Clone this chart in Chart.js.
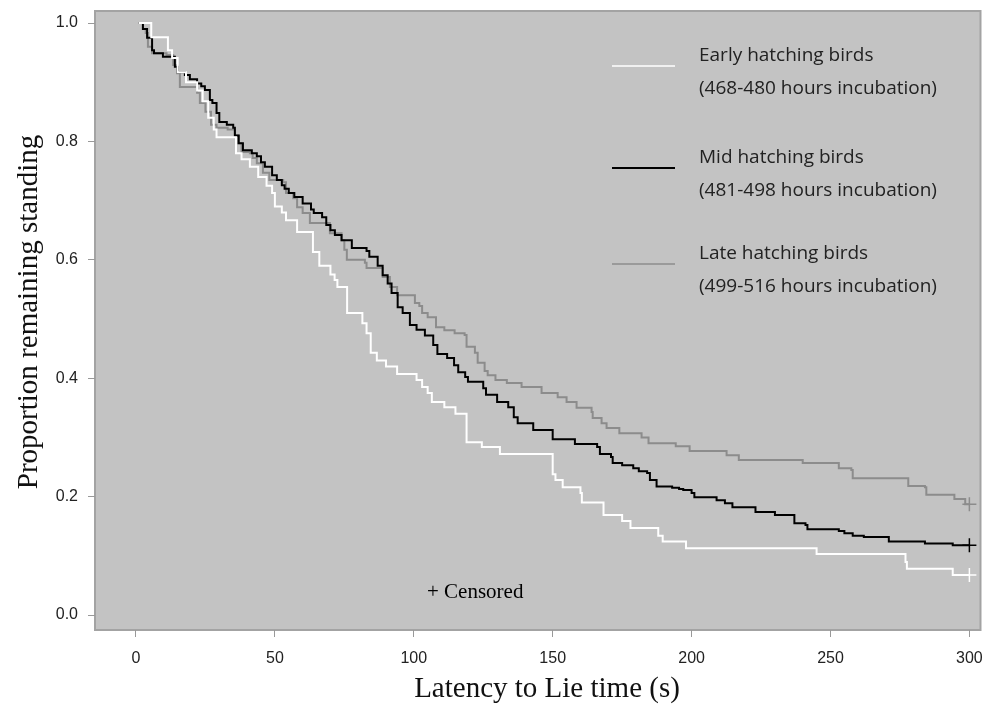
<!DOCTYPE html>
<html>
<head>
<meta charset="utf-8">
<script src="https://cdn.jsdelivr.net/npm/chart.js@4.4.1/dist/chart.umd.min.js"></script>
<style>
  html, body { margin: 0; padding: 0; background: #fff; }
</style>
</head>
<body>
<canvas id="kmChart" width="989" height="709"></canvas>
<script>
// tick labels
const xTicks = [0, 50, 100, 150, 200, 250, 300];
const yTicks = [0, 0.2, 0.4, 0.6, 0.8, 1.0];

// Early hatching birds (468-480 h) - step times and survival after each step
const earlyTime = [1, 5.5, 11.5, 13, 15, 18, 22, 24, 26, 28, 29, 36, 38, 41, 44, 47, 49, 50, 52.5, 54, 58, 63.7, 66, 70, 71.5, 72.5, 76, 81.5, 83, 84.5, 86.7, 90, 94, 101, 103, 105, 106.5, 111, 115, 119, 124.5, 131, 150, 151, 153.6, 160, 160.5, 168.3, 175, 178, 188, 189.6, 198, 245, 277, 277.5, 294, 300];
const earlySurv = [1.0, 0.976, 0.954, 0.941, 0.917, 0.90, 0.886, 0.868, 0.84, 0.82, 0.807, 0.78, 0.77, 0.757, 0.74, 0.725, 0.713, 0.69, 0.68, 0.667, 0.647, 0.613, 0.59, 0.575, 0.566, 0.554, 0.51, 0.493, 0.476, 0.443, 0.43, 0.42, 0.407, 0.397, 0.385, 0.375, 0.36, 0.351, 0.34, 0.292, 0.284, 0.272, 0.238, 0.228, 0.216, 0.206, 0.19, 0.169, 0.159, 0.147, 0.134, 0.124, 0.113, 0.103, 0.0895, 0.078, 0.0676, 0.0676];

// Mid hatching birds (481-498 h)
const midTime = [1, 2.5, 4, 5.8, 6.5, 9.7, 14, 15, 17.6, 19.4, 22, 23.5, 24.8, 26.6, 27.5, 29, 30, 32.7, 35, 35.6, 37, 38.5, 41.7, 43.5, 45, 46.4, 49, 50.7, 52.5, 53.5, 55, 57, 60, 63, 64, 67, 68.5, 70, 71.6, 74, 77.7, 83, 84, 87, 88.8, 90.6, 92, 94.2, 96, 98.6, 101, 104, 107, 108.5, 112, 114.5, 116, 118.5, 119.5, 125, 126, 130, 134, 136, 137.4, 143, 150, 158, 166, 167, 171, 171.6, 175, 179, 181, 184, 185, 187.4, 193, 195.5, 197, 200, 201, 209, 212, 214.7, 223, 230, 237, 241, 241.7, 253, 255, 258, 262, 271, 284, 294, 300];
const midSurv = [1.0, 0.99, 0.975, 0.954, 0.949, 0.943, 0.926, 0.917, 0.912, 0.905, 0.898, 0.893, 0.887, 0.87, 0.865, 0.848, 0.833, 0.828, 0.823, 0.81, 0.797, 0.785, 0.78, 0.775, 0.765, 0.757, 0.743, 0.735, 0.726, 0.72, 0.713, 0.706, 0.695, 0.685, 0.679, 0.672, 0.659, 0.65, 0.642, 0.633, 0.62, 0.615, 0.605, 0.59, 0.574, 0.56, 0.544, 0.52, 0.51, 0.49, 0.482, 0.472, 0.456, 0.441, 0.434, 0.422, 0.41, 0.402, 0.394, 0.383, 0.372, 0.36, 0.351, 0.334, 0.324, 0.3125, 0.297, 0.289, 0.284, 0.272, 0.267, 0.257, 0.253, 0.248, 0.243, 0.24, 0.228, 0.217, 0.215, 0.213, 0.211, 0.206, 0.199, 0.194, 0.189, 0.182, 0.174, 0.169, 0.155, 0.152, 0.145, 0.142, 0.138, 0.134, 0.132, 0.124, 0.121, 0.118, 0.118];

// Late hatching birds (499-516 h)
const lateTime = [1, 2.5, 3.5, 4.3, 5.8, 11, 13.4, 14.8, 15.8, 22, 23, 25, 27, 29, 33, 35.6, 36.7, 38, 41, 42, 43.5, 45.7, 48, 53, 54, 56.6, 58, 60, 62.6, 69.8, 74, 75, 75.9, 82.4, 83, 88.8, 91.4, 94, 100.4, 102, 103, 105, 108, 111, 114.7, 118.3, 119, 122, 123, 125.5, 126.6, 129.4, 133.5, 138.8, 146, 151.8, 155, 158.6, 164, 164.4, 167.6, 169.4, 174, 182, 184.5, 194.3, 199.3, 212.6, 217, 240, 253, 257.5, 258, 278, 284, 284.5, 294.6, 298.5, 300];
const lateSurv = [1.0, 0.99, 0.983, 0.96, 0.949, 0.946, 0.929, 0.915, 0.892, 0.882, 0.865, 0.85, 0.828, 0.823, 0.82, 0.81, 0.797, 0.782, 0.78, 0.772, 0.763, 0.747, 0.735, 0.731, 0.713, 0.704, 0.689, 0.679, 0.662, 0.645, 0.633, 0.617, 0.60, 0.595, 0.586, 0.571, 0.554, 0.54, 0.527, 0.522, 0.51, 0.503, 0.486, 0.481, 0.476, 0.473, 0.453, 0.443, 0.426, 0.412, 0.405, 0.397, 0.392, 0.385, 0.375, 0.368, 0.36, 0.35, 0.343, 0.333, 0.324, 0.316, 0.307, 0.30, 0.29, 0.285, 0.277, 0.27, 0.262, 0.257, 0.248, 0.245, 0.231, 0.218, 0.216, 0.203, 0.196, 0.187, 0.187];

// censored marks at end of follow-up (early, mid, late)
const censorTime = [300, 300, 300];
const censorSurv = [0.0676, 0.118, 0.187];

const groupNames = [
  ["Early hatching birds", "(468-480 hours incubation)"],
  ["Mid hatching birds", "(481-498 hours incubation)"],
  ["Late hatching birds", "(499-516 hours incubation)"]
];
const groupColors = ["#ffffff", "#000000", "#8c8c8c"];
const xTitle = "Latency to Lie time (s)";
const yTitle = "Proportion remaining standing";

const toPoints = (xs, ys) => xs.map((x, i) => ({ x: x, y: ys[i] }));

const stepSet = (label, xs, ys, color) => ({
  label: label,
  data: toPoints(xs, ys),
  stepped: "before",
  borderColor: color,
  borderWidth: 2,
  pointRadius: 0,
  fill: false
});

const censorSet = (i) => ({
  type: "scatter",
  label: "censored " + i,
  data: [{ x: censorTime[i], y: censorSurv[i] }],
  pointStyle: "cross",
  pointRadius: 7,
  borderColor: groupColors[i],
  borderWidth: 1.5,
  showLine: false
});

// gray panel + frame
const panelPlugin = {
  id: "panel",
  beforeDraw(chart) {
    const { ctx, chartArea: a } = chart;
    ctx.save();
    ctx.fillStyle = "#c3c3c3";
    ctx.fillRect(a.left, a.top, a.right - a.left, a.bottom - a.top);
    ctx.strokeStyle = "#a3a3a3";
    ctx.lineWidth = 2;
    ctx.strokeRect(a.left, a.top, a.right - a.left, a.bottom - a.top);
    ctx.restore();
  }
};

// custom two-line legend, axis titles and the "+ Censored" note
const legendPlugin = {
  id: "kmLegend",
  afterDraw(chart) {
    const { ctx } = chart;
    const lineRows = [66, 168, 264];
    ctx.save();
    ctx.font = "19px 'Open Sans'";
    ctx.fillStyle = "#222";
    ctx.textBaseline = "middle";
    ctx.textAlign = "left";
    lineRows.forEach((y, i) => {
      ctx.strokeStyle = groupColors[i];
      ctx.lineWidth = i === 1 ? 2 : 1.5;
      ctx.beginPath();
      ctx.moveTo(612, y);
      ctx.lineTo(675, y);
      ctx.stroke();
      ctx.fillText(groupNames[i][0], 699, y - 10);
      ctx.fillText(groupNames[i][1], 699, y + 23);
    });
    ctx.font = "21px 'Liberation Serif'";
    ctx.fillStyle = "#000";
    ctx.fillText("+ Censored", 427, 592);

    ctx.fillStyle = "#111";
    ctx.font = "29px 'Liberation Serif'";
    ctx.textAlign = "center";
    ctx.fillText(xTitle, 547, 689);
    ctx.translate(29, 312);
    ctx.rotate(-Math.PI / 2);
    ctx.fillText(yTitle, 0, 0);
    ctx.restore();
  }
};

const ctx = document.getElementById("kmChart").getContext("2d");
new Chart(ctx, {
  type: "line",
  data: {
    datasets: [
      stepSet(groupNames[0][0], earlyTime, earlySurv, groupColors[0]),
      stepSet(groupNames[1][0], midTime, midSurv, groupColors[1]),
      stepSet(groupNames[2][0], lateTime, lateSurv, groupColors[2]),
      censorSet(0), censorSet(1), censorSet(2)
    ]
  },
  options: {
    responsive: false,
    devicePixelRatio: 1,
    animation: false,
    layout: { padding: { top: 11, right: 4, left: 0, bottom: 0 } },
    plugins: { legend: { display: false }, tooltip: { enabled: false } },
    scales: {
      x: {
        type: "linear",
        min: -14.75,
        max: 304,
        afterBuildTicks: (s) => { s.ticks = xTicks.map(v => ({ value: v })); },
        afterFit: (s) => { s.height = 79; s.paddingLeft = 0; s.paddingRight = 0; },
        border: { display: false },
        grid: { drawOnChartArea: false, tickLength: 7, color: "#999" },
        ticks: { color: "#222", padding: 12, maxRotation: 0, font: { family: "'Liberation Sans'", size: 16 } },
        title: { display: false, text: xTitle }
      },
      y: {
        min: -0.0253,
        max: 1.0203,
        afterBuildTicks: (s) => { s.ticks = yTicks.map(v => ({ value: v })); },
        afterFit: (s) => { s.width = 95; s.paddingTop = 0; s.paddingBottom = 0; },
        border: { display: false },
        grid: { drawOnChartArea: false, tickLength: 7, color: "#999" },
        ticks: {
          color: "#222",
          padding: 10,
          font: { family: "'Liberation Sans'", size: 16 },
          callback: (v) => v.toFixed(1)
        },
        title: { display: false, text: yTitle }
      }
    }
  },
  plugins: [panelPlugin, legendPlugin]
});
</script>
</body>
</html>
